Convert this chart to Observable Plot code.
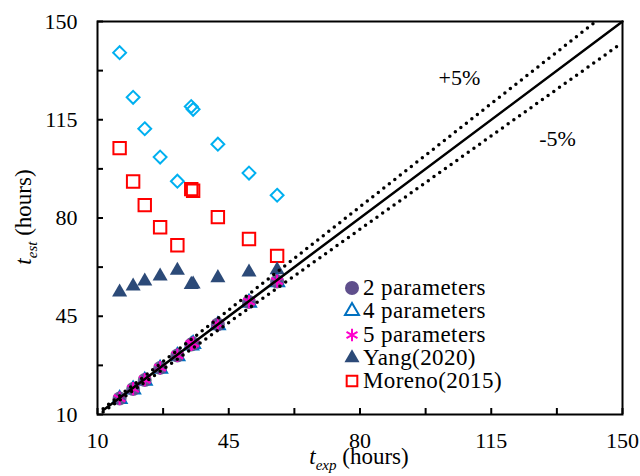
<!DOCTYPE html>
<html><head><meta charset="utf-8">
<script src="https://cdn.jsdelivr.net/npm/d3@7"></script>
<script src="https://cdn.jsdelivr.net/npm/@observablehq/plot@0.6"></script>
<style>
body{margin:0;background:#fff;}
#chart{position:relative;width:640px;height:476px;font-family:"Liberation Serif","Times New Roman",serif;}
#chart svg text{font-family:"Liberation Serif","Times New Roman",serif;}
#legend{position:absolute;left:343px;top:276.5px;font-size:23px;letter-spacing:0.4px;color:#000;}
.row{display:flex;align-items:center;height:23.3px;white-space:nowrap;}
.row svg{width:18px;height:18px;margin-right:2px;overflow:visible;}
</style></head><body><div id="chart"><div id="legend"></div></div>
<script>
// ---- data ----
const tExp      = [15.9, 19.5, 22.6, 26.7, 31.3, 35.0, 35.5, 42.1, 50.4, 57.9];
const est2      = [15.7, 19.1, 22.3, 26.6, 31.0, 34.9, 35.3, 42.1, 50.1, 57.4];
const est4      = [15.5, 18.9, 22.0, 26.3, 30.8, 34.6, 35.1, 41.8, 49.8, 57.1];
const est5      = [15.8, 19.2, 22.4, 26.7, 31.1, 35.0, 35.4, 42.2, 50.2, 57.5];
const estYang   = [53.6, 55.7, 57.5, 59.3, 61.3, 56.3, 56.4, 58.7, 60.7, 61.5];
const estMoreno = [104.9, 93.0, 84.6, 76.7, 70.3, 90.3, 89.7, 80.3, 72.5, 66.5];
const estOther  = [138.9, 123.0, 111.8, 101.7, 93.1, 119.7, 118.7, 106.3, 96.0, 88.1];

const majorTicks = [10, 45, 80, 115, 150];
const allTicks   = [10, 27.5, 45, 62.5, 80, 97.5, 115, 132.5, 150];

const lineX      = [11.5, 150];      // y = x
const upperX     = [11.5, 142.5];    // +5 %
const lowerX     = [11.5, 148.5];    // -5 %

const annoText = ["+5%", "-5%"];
const annoX    = [106.5, 132.7];
const annoY    = [130, 108.3];

const legendLabels = ["2 parameters", "4 parameters", "5 parameters", "Yang(2020)", "Moreno(2015)"];

// ---- build tables ----
const pts = (ys) => tExp.map((x, i) => ({x, y: ys[i]}));
const lineData = (xs, k) => xs.map(x => ({x, y: x * k}));
const anno = annoText.map((t, i) => ({t, x: annoX[i], y: annoY[i]}));

const W = 640, H = 476, mL = 97, mR = 18, mT = 21, mB = 62;
const innerH = H - mT - mB, innerW = W - mL - mR;
const font = "'Liberation Serif', 'Times New Roman', serif";

const C2 = "#5f4f8c", C4 = "#0070c0", C5 = "#ff00cc", CY = "#2c4a78", CM = "#ff0000", CO = "#00b0f0";

const plot = Plot.plot({
  width: W, height: H,
  marginLeft: mL, marginRight: mR, marginTop: mT, marginBottom: mB,
  style: {fontFamily: font, background: "white", overflow: "visible", color: "black"},
  x: {domain: [10, 150]},
  y: {domain: [10, 150]},
  marks: [
    Plot.tickX(allTicks, {x: d => d, insetTop: innerH - 6, strokeWidth: 2, stroke: "black"}),
    Plot.tickY(allTicks, {y: d => d, insetRight: innerW - 6, strokeWidth: 2, stroke: "black"}),
    Plot.axisX({ticks: majorTicks, tickSize: 0, tickPadding: 26, lineAnchor: "middle", fontSize: 22, label: null, fill: "black"}),
    Plot.axisY({ticks: majorTicks, tickSize: 0, tickPadding: 20, fontSize: 22, label: null, fill: "black"}),
    Plot.dot(pts(estOther), {x: "x", y: "y", symbol: "diamond2", r: 5.8, stroke: CO, strokeWidth: 2, fill: "none"}),
    Plot.dot(pts(estMoreno), {x: "x", y: "y", symbol: "square", r: 7, stroke: CM, strokeWidth: 2, fill: "none"}),
    Plot.dot(pts(estYang), {x: "x", y: "y", symbol: "triangle", r: 5.6, fill: CY, stroke: "none"}),
    Plot.dot(pts(est4), {x: "x", y: "y", symbol: "triangle", r: 5.2, stroke: C4, strokeWidth: 2, fill: "none"}),
    Plot.dot(pts(est2), {x: "x", y: "y", symbol: "circle", r: 7, fill: C2, fillOpacity: 0.9, stroke: "none"}),
    Plot.dot(pts(est5), {x: "x", y: "y", symbol: "asterisk", r: 6.3, stroke: C5, strokeWidth: 2, fill: "none"}),
    Plot.line(lineData(lineX, 1), {x: "x", y: "y", stroke: "black", strokeWidth: 2.5}),
    Plot.line(lineData(upperX, 1.05), {x: "x", y: "y", stroke: "black", strokeWidth: 3.5, strokeDasharray: "0 7", strokeLinecap: "round"}),
    Plot.line(lineData(lowerX, 0.95), {x: "x", y: "y", stroke: "black", strokeWidth: 3.5, strokeDasharray: "0 7", strokeLinecap: "round"}),
    Plot.text(anno, {x: "x", y: "y", text: "t", fontSize: 22, fill: "black"}),
    Plot.frame({stroke: "black", strokeWidth: 2})
  ]
});

const chart = document.getElementById("chart");
chart.insertBefore(plot, chart.firstChild);

// axis titles with italic subscripts
const svg = d3.select(plot);
const xt = svg.append("text").attr("x", 359).attr("y", 464).attr("text-anchor", "middle")
  .attr("font-size", 23).attr("fill", "black");
xt.append("tspan").attr("font-style", "italic").text("t");
xt.append("tspan").attr("font-style", "italic").attr("font-size", 15).attr("dy", 6).text("exp");
xt.append("tspan").attr("dy", -6).text(" (hours)");

const yt = svg.append("text").attr("transform", "translate(31,217) rotate(-90)").attr("text-anchor", "middle")
  .attr("font-size", 23).attr("fill", "black");
yt.append("tspan").attr("font-style", "italic").text("t");
yt.append("tspan").attr("font-style", "italic").attr("font-size", 15).attr("dy", 6).text("est");
yt.append("tspan").attr("dy", -6).text(" (hours)");

// legend
const legendSym = [
  {type: d3.symbolCircle, size: Math.PI * 49, fill: C2, stroke: "none"},
  {type: d3.symbolTriangle, size: Math.PI * 5.2 * 5.2, fill: "none", stroke: C4},
  {type: d3.symbolAsterisk, size: Math.PI * 36, fill: "none", stroke: C5},
  {type: d3.symbolTriangle, size: Math.PI * 5.6 * 5.6, fill: CY, stroke: "none"},
  {type: d3.symbolSquare, size: Math.PI * 36, fill: "none", stroke: CM}
];
const leg = d3.select("#legend");
legendLabels.forEach((lab, i) => {
  const row = leg.append("div").attr("class", "row");
  const s = row.append("svg").attr("viewBox", "-9 -9 18 18");
  s.append("path").attr("d", d3.symbol(legendSym[i].type, legendSym[i].size)())
    .attr("fill", legendSym[i].fill).attr("stroke", legendSym[i].stroke).attr("stroke-width", 2);
  row.append("span").text(lab);
});
</script>
</body></html>
